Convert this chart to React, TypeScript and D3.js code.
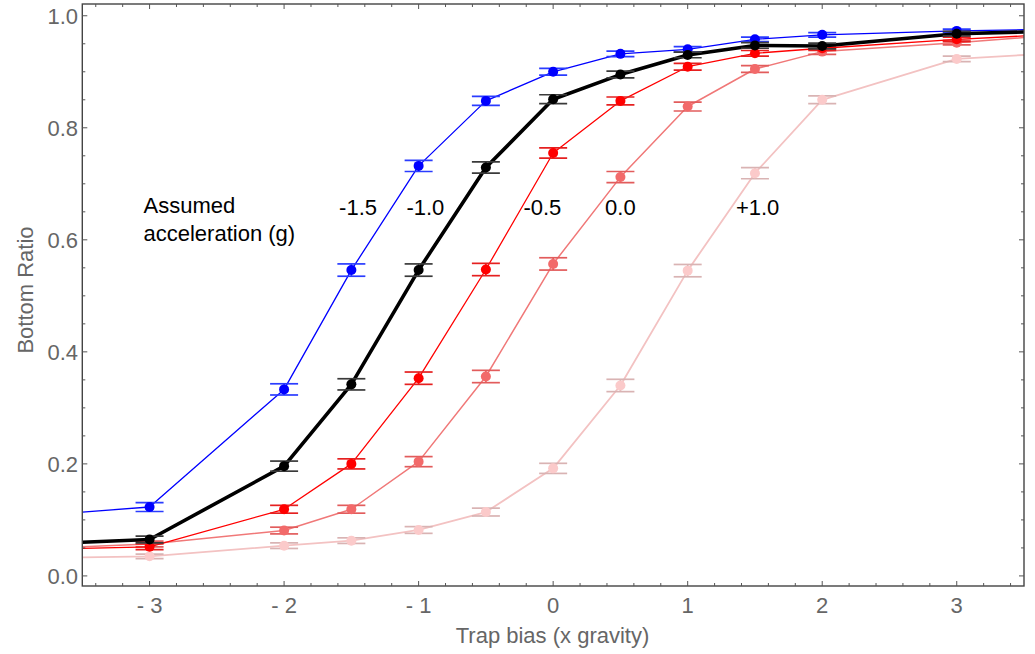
import React from "react";
import * as d3 from "d3";

// ---- data ----
const xValues = [-3, -2, -1.5, -1, -0.5, 0, 0.5, 1, 1.5, 2, 3];
const edgeX = [-3.5, 3.5];

const blueY = [0.123, 0.333, 0.546, 0.732, 0.848, 0.9, 0.932, 0.94, 0.958, 0.966, 0.973];
const blueErr = [0.008, 0.01, 0.011, 0.01, 0.008, 0.006, 0.005, 0.005, 0.004, 0.004, 0.003];
const blueEdge = [0.114, 0.975];

const blackY = [0.065, 0.196, 0.342, 0.546, 0.729, 0.851, 0.895, 0.93, 0.947, 0.946, 0.968];
const blackErr = [0.006, 0.009, 0.01, 0.011, 0.01, 0.008, 0.006, 0.005, 0.005, 0.005, 0.004];
const blackEdge = [0.06, 0.971];

const redY = [0.052, 0.119, 0.2, 0.353, 0.547, 0.755, 0.848, 0.909, 0.933, 0.942, 0.958];
const redErr = [0.005, 0.007, 0.009, 0.011, 0.011, 0.009, 0.007, 0.006, 0.005, 0.004, 0.004];
const redEdge = [0.049, 0.964];

const salmonY = [0.057, 0.081, 0.119, 0.204, 0.356, 0.557, 0.712, 0.838, 0.905, 0.936, 0.952];
const salmonErr = [0.005, 0.006, 0.007, 0.009, 0.011, 0.011, 0.01, 0.008, 0.006, 0.005, 0.004];
const salmonEdge = [0.052, 0.961];

const pinkY = [0.035, 0.054, 0.063, 0.082, 0.114, 0.192, 0.34, 0.545, 0.719, 0.85, 0.923];
const pinkErr = [0.004, 0.005, 0.005, 0.006, 0.007, 0.009, 0.011, 0.011, 0.01, 0.007, 0.005];
const pinkEdge = [0.033, 0.93];

const xTickValues = [-3, -2, -1, 0, 1, 2, 3];
const xTickLabels = ["- 3", "- 2", "- 1", "0", "1", "2", "3"];
const yTickValues = [0, 0.2, 0.4, 0.6, 0.8, 1.0];
const yTickLabels = ["0.0", "0.2", "0.4", "0.6", "0.8", "1.0"];

const seriesLabels = ["-1.5", "-1.0", "-0.5", "0.0", "+1.0"];
const seriesLabelX = [-1.45, -0.95, -0.08, 0.5, 1.52];
const seriesLabelY = [0.645, 0.645, 0.645, 0.645, 0.645];

const annotationLines = ["Assumed", "acceleration (g)"];

// ---- layout ----
const W = 1035;
const H = 654;
const left = 82.3;
const right = 1024;
const top = 4;
const bottom = 586;
const FONT = "'Liberation Sans', Arial, Helvetica, sans-serif";

const x = d3.scaleLinear().domain([-3.5, 3.5]).range([left, right]);
const y = d3.scaleLinear().domain([-0.018, 1.021]).range([bottom, top]);

type Series = {
  ys: number[];
  errs: number[];
  edge: number[];
  line: string;
  lineWidth: number;
  dot: string;
  bar: string;
};

const series: Series[] = [
  { ys: pinkY, errs: pinkErr, edge: pinkEdge, line: "#f3c2c2", lineWidth: 1.8, dot: "#fbcaca", bar: "#d9b3b3" },
  { ys: salmonY, errs: salmonErr, edge: salmonEdge, line: "#f07878", lineWidth: 1.5, dot: "#f26a6a", bar: "#e25c5c" },
  { ys: redY, errs: redErr, edge: redEdge, line: "#ff0000", lineWidth: 1.3, dot: "#ff0000", bar: "#e52020" },
  { ys: blueY, errs: blueErr, edge: blueEdge, line: "#0000ff", lineWidth: 1.3, dot: "#0000ff", bar: "#2a3cff" },
  { ys: blackY, errs: blackErr, edge: blackEdge, line: "#000000", lineWidth: 3.6, dot: "#000000", bar: "#3a3a3a" },
];

const lineGen = d3
  .line<[number, number]>()
  .x((d) => x(d[0]))
  .y((d) => y(d[1]));

export default function App() {
  const xMinor = d3.range(-3.4, 3.41, 0.2).filter((v) => Math.abs(v - Math.round(v)) > 1e-6);
  const yMinor = d3.range(0, 1.001, 0.05).filter((v) => Math.abs(v * 5 - Math.round(v * 5)) > 1e-6);
  const cap = 14;

  return (
    <svg
      width={W}
      height={H}
      style={{ position: "absolute", left: 0, top: 0, background: "#fff" }}
      fontFamily={FONT}
    >
      <defs>
        <clipPath id="plotClip">
          <rect x={left} y={top} width={right - left} height={bottom - top} />
        </clipPath>
      </defs>

      <g clipPath="url(#plotClip)">
        {series.map((s, si) => {
          const pts: [number, number][] = [
            [edgeX[0], s.edge[0]],
            ...xValues.map((xv, i) => [xv, s.ys[i]] as [number, number]),
            [edgeX[1], s.edge[1]],
          ];
          return (
            <g key={si}>
              <path d={lineGen(pts) || ""} fill="none" stroke={s.line} strokeWidth={s.lineWidth} strokeLinejoin="round" />
              {xValues.map((xv, i) => {
                const cx = x(xv);
                const y1 = y(s.ys[i] + s.errs[i]);
                const y2 = y(s.ys[i] - s.errs[i]);
                return (
                  <g key={i} stroke={s.bar} strokeWidth={1.7}>
                    <line x1={cx} x2={cx} y1={y1} y2={y2} />
                    <line x1={cx - cap} x2={cx + cap} y1={y1} y2={y1} />
                    <line x1={cx - cap} x2={cx + cap} y1={y2} y2={y2} />
                  </g>
                );
              })}
              {xValues.map((xv, i) => (
                <circle key={"c" + i} cx={x(xv)} cy={y(s.ys[i])} r={5} fill={s.dot} />
              ))}
            </g>
          );
        })}
      </g>

      {/* frame */}
      <rect x={left} y={top} width={right - left} height={bottom - top} fill="none" stroke="#444" strokeWidth={1.4} />

      {/* x ticks */}
      {xTickValues.map((v) => (
        <g key={"xt" + v} stroke="#555" strokeWidth={1}>
          <line x1={x(v)} x2={x(v)} y1={bottom} y2={bottom - 5} />
          <line x1={x(v)} x2={x(v)} y1={top} y2={top + 5} />
        </g>
      ))}
      {xMinor.map((v, i) => (
        <g key={"xm" + i} stroke="#555" strokeWidth={1}>
          <line x1={x(v)} x2={x(v)} y1={bottom} y2={bottom - 3} />
          <line x1={x(v)} x2={x(v)} y1={top} y2={top + 3} />
        </g>
      ))}
      {/* y ticks */}
      {yTickValues.map((v) => (
        <g key={"yt" + v} stroke="#555" strokeWidth={1}>
          <line x1={left} x2={left + 5} y1={y(v)} y2={y(v)} />
          <line x1={right} x2={right - 5} y1={y(v)} y2={y(v)} />
        </g>
      ))}
      {yMinor.map((v, i) => (
        <g key={"ym" + i} stroke="#555" strokeWidth={1}>
          <line x1={left} x2={left + 3} y1={y(v)} y2={y(v)} />
          <line x1={right} x2={right - 3} y1={y(v)} y2={y(v)} />
        </g>
      ))}

      {/* tick labels */}
      {xTickValues.map((v, i) => (
        <text key={"xl" + v} x={x(v)} y={613} textAnchor="middle" fontSize={22} fill="#666">
          {xTickLabels[i]}
        </text>
      ))}
      {yTickValues.map((v, i) => (
        <text key={"yl" + v} x={78} y={y(v) + 8} textAnchor="end" fontSize={22} fill="#666">
          {yTickLabels[i]}
        </text>
      ))}

      {/* axis labels */}
      <text x={552.5} y={643} textAnchor="middle" fontSize={22} fill="#666">
        Trap bias (x gravity)
      </text>
      <text
        transform={`translate(33, 290) rotate(-90)`}
        textAnchor="middle"
        fontSize={22}
        fill="#666"
      >
        Bottom Ratio
      </text>

      {/* annotations */}
      {annotationLines.map((t, i) => (
        <text key={"an" + i} x={143.5} y={212.5 + i * 28} fontSize={22} fill="#000">
          {t}
        </text>
      ))}
      {seriesLabels.map((t, i) => (
        <text key={"sl" + i} x={x(seriesLabelX[i])} y={y(seriesLabelY[i])} textAnchor="middle" fontSize={22} fill="#000">
          {t}
        </text>
      ))}
    </svg>
  );
}
